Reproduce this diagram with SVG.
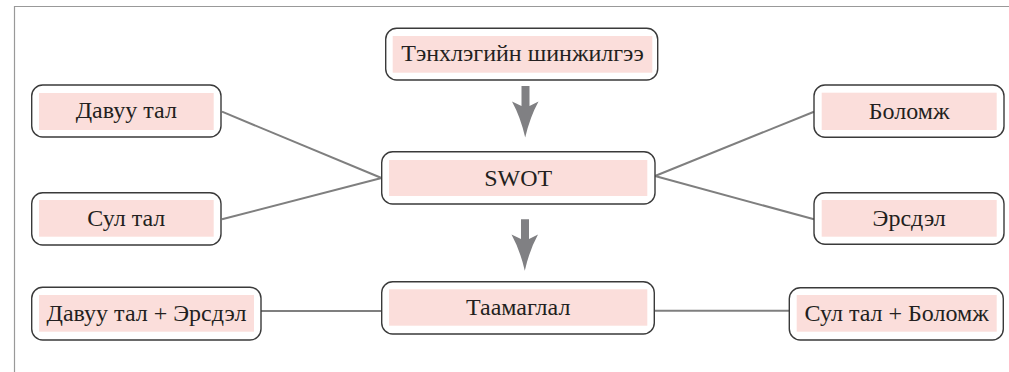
<svg xmlns="http://www.w3.org/2000/svg" width="1009" height="372" viewBox="0 0 1009 372">
<style>
.frame{fill:none;stroke:#999;stroke-width:1.2}
.box{fill:#fff;stroke:#3a3a3a;stroke-width:1.4}
.pink{fill:#fbdedb}
.lbl{font-family:'Liberation Serif','Times New Roman',serif;font-size:24px;fill:#231f20;text-anchor:middle}
.conn{stroke:#7f7f7f;stroke-width:2;fill:none}
.arr{fill:#808083}
</style>
<rect width="1009" height="372" fill="#fff"/>
<path class="frame" d="M14.5,372 V6.5 H1009"/>
<g id="connectors">
<line class="conn" x1="222" y1="111.7" x2="381.5" y2="178"/>
<line class="conn" x1="222" y1="219.3" x2="381.5" y2="178"/>
<line class="conn" x1="655" y1="176" x2="814" y2="111.7"/>
<line class="conn" x1="655" y1="176" x2="814" y2="219.3"/>
<line class="conn" x1="261" y1="311" x2="382" y2="311"/>
<line class="conn" x1="654" y1="310.7" x2="789.5" y2="310.7"/>
<path class="arr" d="M521.5,86 H529.5 V106 L538.5,101.5 Q530,117 525.2,137.5 Q520.5,117 512,101.5 L521.5,106 Z"/>
<path class="arr" d="M521,219.3 H529 V239 L538,234.5 Q529.5,250 524.8,270.7 Q520,250 511.5,234.5 L521,239 Z"/>
</g>
<g id="n-tenhleg">
<rect class="box" x="385.7" y="28.3" width="272" height="51.7" rx="11"/>
<rect class="pink" x="392.7" y="36" width="259.6" height="36.7"/>
<text class="lbl" x="522.5" y="61.2">Тэнхлэгийн шинжилгээ</text>
</g>
<g id="n-davuu">
<rect class="box" x="31.7" y="85" width="189.3" height="52" rx="11"/>
<rect class="pink" x="39" y="93" width="174.7" height="37"/>
<text class="lbl" x="126.3" y="118.3">Давуу тал</text>
</g>
<g id="n-sul">
<rect class="box" x="31.7" y="192.7" width="189.3" height="52.3" rx="11"/>
<rect class="pink" x="39" y="200" width="174.7" height="36.7"/>
<text class="lbl" x="126.3" y="226">Сул тал</text>
</g>
<g id="n-swot">
<rect class="box" x="381.7" y="151.7" width="273.3" height="52.3" rx="11"/>
<rect class="pink" x="389" y="160" width="258.3" height="36"/>
<text class="lbl" x="518.2" y="185.5">SWOT</text>
</g>
<g id="n-bolomj">
<rect class="box" x="814" y="85" width="190" height="52.3" rx="11"/>
<rect class="pink" x="821.7" y="92.7" width="175" height="37.3"/>
<text class="lbl" x="909.2" y="118.5">Боломж</text>
</g>
<g id="n-ersdel">
<rect class="box" x="814" y="192.7" width="190" height="51.6" rx="11"/>
<rect class="pink" x="821.7" y="200" width="175" height="36.7"/>
<text class="lbl" x="909.2" y="226">Эрсдэл</text>
</g>
<g id="n-taamaglal">
<rect class="box" x="381.7" y="281.7" width="272.6" height="52.3" rx="11"/>
<rect class="pink" x="389" y="289.3" width="258.3" height="36.4"/>
<text class="lbl" x="518.2" y="314.5">Таамаглал</text>
</g>
<g id="n-davuu-ersdel">
<rect class="box" x="31.7" y="287.3" width="229.3" height="52.7" rx="11"/>
<rect class="pink" x="39" y="295" width="215" height="36.7"/>
<text class="lbl" x="146.5" y="321">Давуу тал + Эрсдэл</text>
</g>
<g id="n-sul-bolomj">
<rect class="box" x="789.3" y="287.7" width="214" height="52.3" rx="11"/>
<rect class="pink" x="796.7" y="295" width="200" height="36.7"/>
<text class="lbl" x="896.7" y="321">Сул тал + Боломж</text>
</g>
</svg>
